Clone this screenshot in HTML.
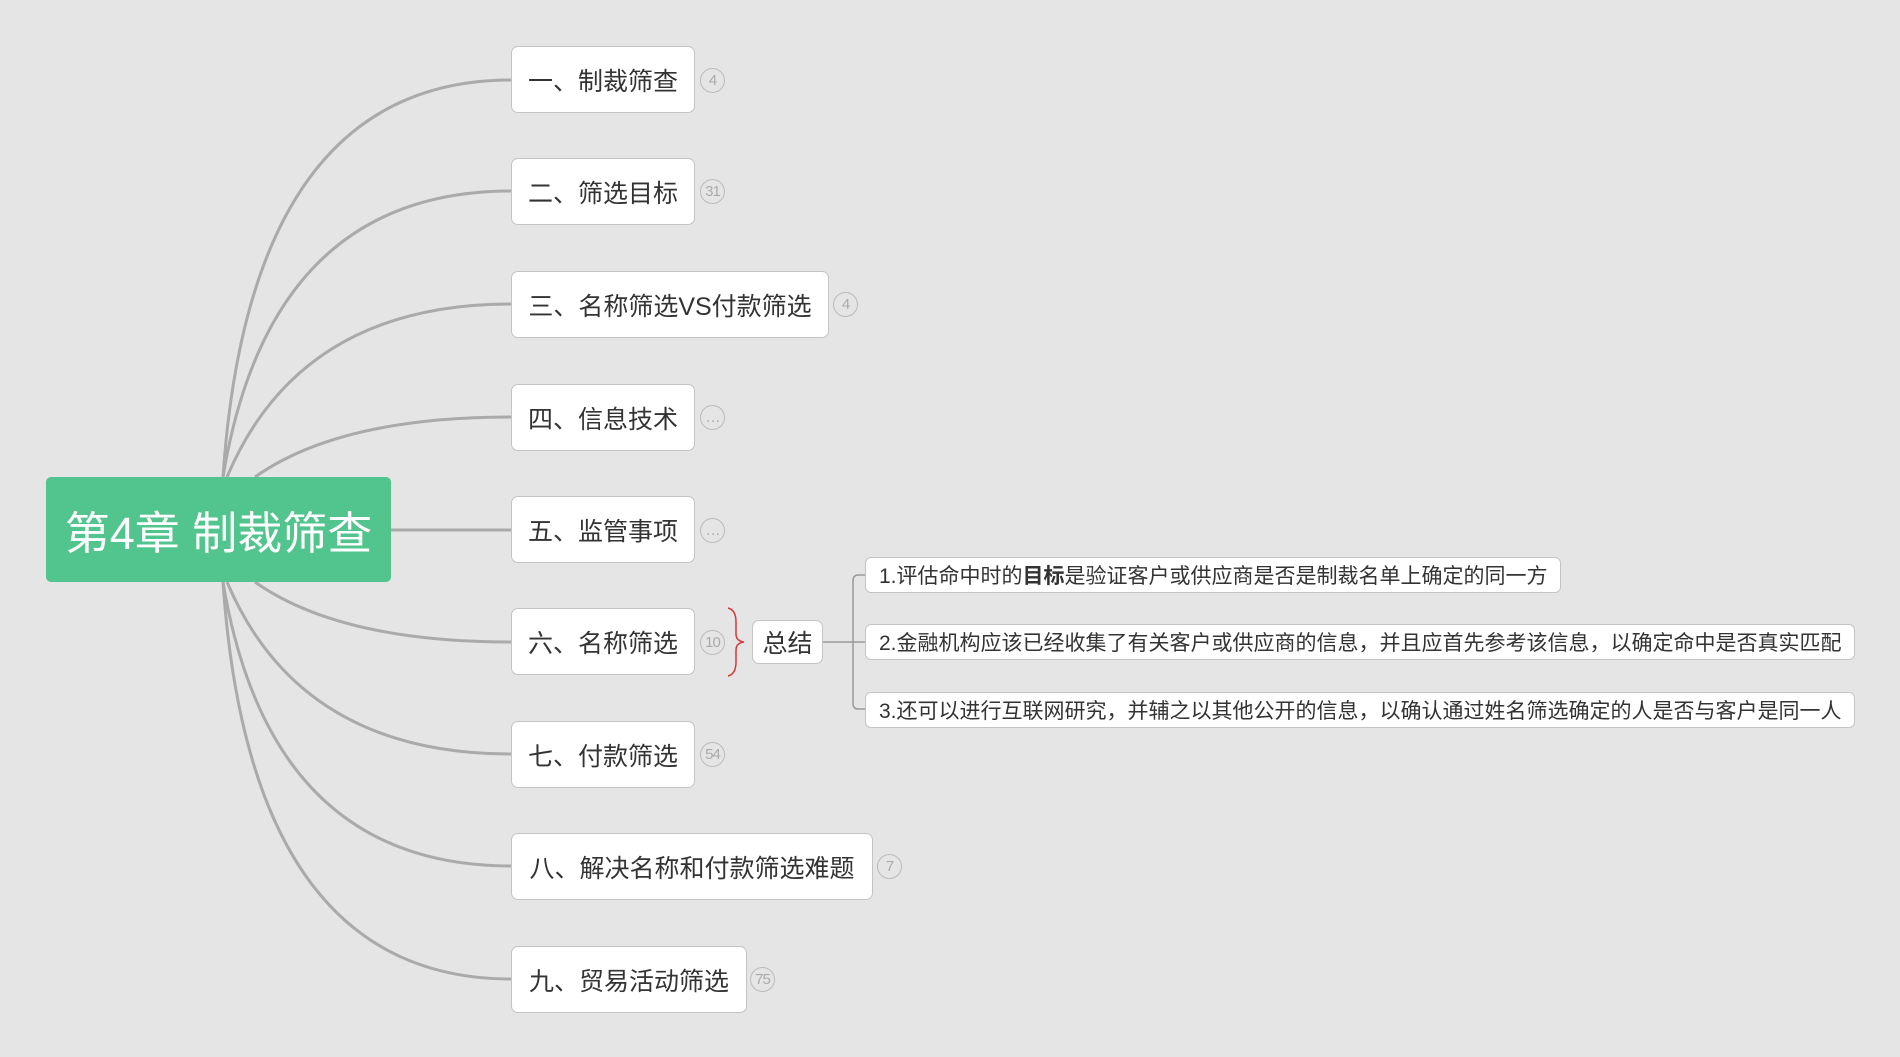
<!DOCTYPE html>
<html><head><meta charset="utf-8"><style>
html,body{margin:0;padding:0;background:#e5e5e5;}
body{width:1900px;height:1057px;overflow:hidden;position:relative;font-family:"Liberation Sans","Noto Sans CJK SC",sans-serif;}
svg{position:absolute;left:0;top:0;}
.n{position:absolute;background:#fff;border:1px solid #c4c4c4;border-radius:7px;box-sizing:border-box;color:#333;font-size:25px;display:flex;align-items:center;justify-content:center;white-space:nowrap;}
.b{position:absolute;width:25px;height:25px;border:1.5px solid #bbb;border-radius:50%;box-sizing:border-box;color:#aaa;font-size:15px;display:flex;align-items:center;justify-content:center;letter-spacing:-1px;}
.d{position:absolute;background:#fff;border:1px solid #c4c4c4;border-radius:6px;box-sizing:border-box;color:#333;font-size:21px;display:flex;align-items:center;padding-left:13px;white-space:nowrap;}
</style></head><body>
<svg width="1900" height="1057">
<g fill="none" stroke="#aaa" stroke-width="3">
<path d="M223,477 Q250,80 511,80"/>
<path d="M223,477 Q270,191 511,191"/>
<path d="M227,477 Q300,304 511,304"/>
<path d="M255,477 Q340,417 511,417"/>
<path d="M390,530 L511,530"/>
<path d="M255,582 Q340,642 511,642"/>
<path d="M227,582 Q300,754 511,754"/>
<path d="M223,582 Q270,866 511,866"/>
<path d="M223,582 Q250,979 511,979"/>
</g>
<g fill="none" stroke="#999" stroke-width="1.5">
<path d="M823,642 L865,642"/>
<path d="M865,575 L858,575 Q853,575 853,581 L853,703 Q853,709 858,709 L865,709"/>
</g>
<path d="M728,608 Q736,610 736,622 L736,634 Q736,641 744,642 Q736,643 736,650 L736,662 Q736,674 728,676" fill="none" stroke="#d23a3a" stroke-width="1.5"/>
</svg>
<div style="position:absolute;left:46px;top:477px;width:345px;height:105px;background:#52c48d;border-radius:5px;color:#fff;font-size:45px;display:flex;align-items:center;justify-content:center;white-space:nowrap;">第4章 制裁筛查</div>

<div class="n" style="left:511px;top:46px;width:184px;height:67px;">一、制裁筛查</div><div class="b" style="left:700px;top:68px;">4</div>
<div class="n" style="left:511px;top:158px;width:184px;height:67px;">二、筛选目标</div><div class="b" style="left:700px;top:179px;">31</div>
<div class="n" style="left:511px;top:271px;width:318px;height:67px;">三、名称筛选VS付款筛选</div><div class="b" style="left:833px;top:292px;">4</div>
<div class="n" style="left:511px;top:384px;width:184px;height:67px;">四、信息技术</div><div class="b" style="left:700px;top:405px;">…</div>
<div class="n" style="left:511px;top:496px;width:184px;height:67px;">五、监管事项</div><div class="b" style="left:700px;top:518px;">…</div>
<div class="n" style="left:511px;top:608px;width:184px;height:67px;">六、名称筛选</div><div class="b" style="left:700px;top:630px;">10</div>
<div class="n" style="left:511px;top:721px;width:184px;height:67px;">七、付款筛选</div><div class="b" style="left:700px;top:742px;">54</div>
<div class="n" style="left:511px;top:833px;width:362px;height:67px;">八、解决名称和付款筛选难题</div><div class="b" style="left:877px;top:854px;">7</div>
<div class="n" style="left:511px;top:946px;width:236px;height:67px;">九、贸易活动筛选</div><div class="b" style="left:750px;top:967px;">75</div>

<div class="n" style="left:752px;top:620px;width:71px;height:44px;">总结</div>
<div class="d" style="left:865px;top:557px;width:696px;height:36px;">1.评估命中时的<b>目标</b>是验证客户或供应商是否是制裁名单上确定的同一方</div>
<div class="d" style="left:865px;top:624px;width:990px;height:36px;">2.金融机构应该已经收集了有关客户或供应商的信息，并且应首先参考该信息，以确定命中是否真实匹配</div>
<div class="d" style="left:865px;top:692px;width:990px;height:36px;">3.还可以进行互联网研究，并辅之以其他公开的信息，以确认通过姓名筛选确定的人是否与客户是同一人</div>
</body></html>
